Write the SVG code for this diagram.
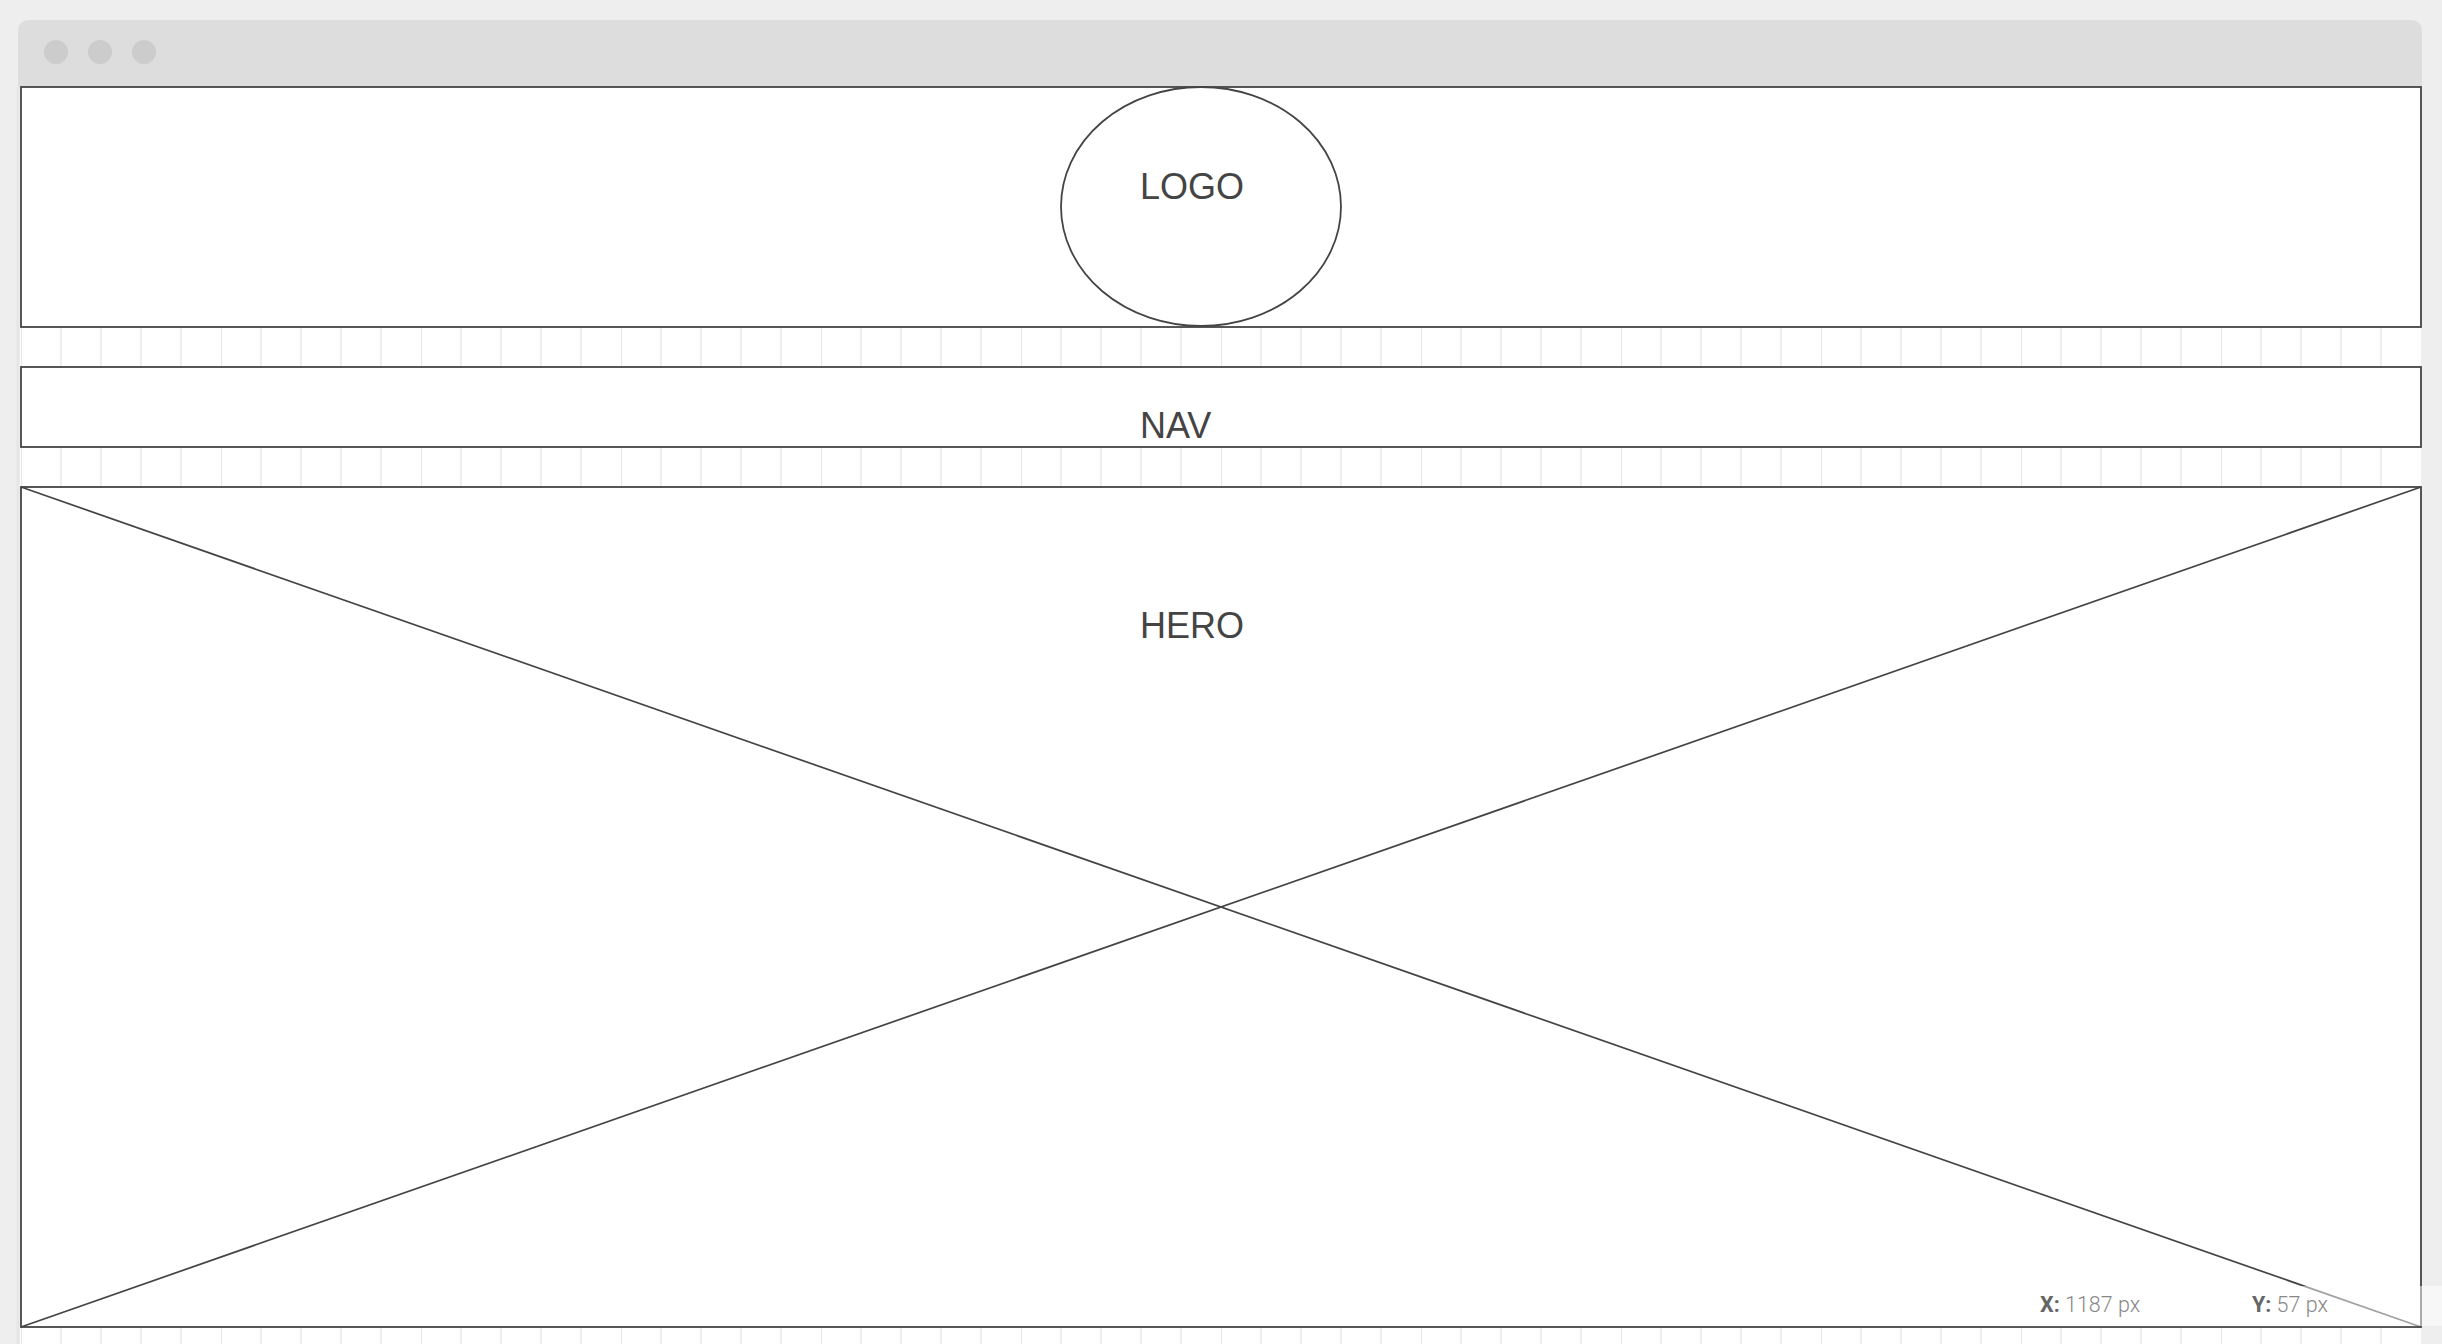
<svg xmlns="http://www.w3.org/2000/svg" width="2442" height="1344" viewBox="0 0 2442 1344">
  <style>
    .box { fill: #ffffff; stroke: #444444; stroke-width: 1.8; }
    .line { fill: none; stroke: #444444; stroke-width: 1.7; }
    .label { font-family: "Liberation Sans", Arial, sans-serif; font-size: 36px; fill: #444444; }
    .minor { stroke: #e9e9e9; stroke-width: 1.5; }
    .major { stroke: #dedede; stroke-width: 1.5; }
    .dot { fill: #cccccc; }
    .coord { font-family: Roboto, "Liberation Sans", sans-serif; font-size: 21.5px; }
    .ck { font-weight: 700; fill: #666666; }
    .cv { font-weight: 300; fill: #888888; }
  </style>
  <defs>
    <pattern id="grid" x="21" y="0" width="200" height="1344" patternUnits="userSpaceOnUse">
      <line class="major" x1="0" y1="0" x2="0" y2="1344"/>
      <line class="minor" x1="40" y1="0" x2="40" y2="1344"/>
      <line class="minor" x1="80" y1="0" x2="80" y2="1344"/>
      <line class="minor" x1="120" y1="0" x2="120" y2="1344"/>
      <line class="minor" x1="160" y1="0" x2="160" y2="1344"/>
    </pattern>
  </defs>

  <!-- page background -->
  <rect x="0" y="0" width="2442" height="1344" fill="#eeeeee"/>

  <!-- browser window -->
  <g id="window">
    <rect x="16.5" y="87" width="3" height="1257" fill="#e6e6e6"/>
    <path d="M18 87 V32 Q18 20 30 20 H2410 Q2422 20 2422 32 V87 Z" fill="#dddddd"/>
    <circle class="dot" cx="56" cy="52" r="12"/>
    <circle class="dot" cx="100" cy="52" r="12"/>
    <circle class="dot" cx="144" cy="52" r="12"/>
    <rect x="20" y="87" width="2401" height="1257" fill="#ffffff"/>
    <rect x="21" y="87" width="2400" height="1257" fill="url(#grid)"/>
  </g>

  <g id="header">
    <rect class="box" x="21" y="87" width="2400" height="240"/>
  </g>

  <g id="logo">
    <ellipse class="box" cx="1201" cy="206.5" rx="140" ry="119.5"/>
    <text class="label" x="1140" y="198.5">LOGO</text>
  </g>

  <g id="nav">
    <rect class="box" x="21" y="367" width="2400" height="80"/>
    <text class="label" x="1140" y="438">NAV</text>
  </g>

  <g id="hero">
    <rect class="box" x="21" y="487" width="2400" height="840"/>
    <line class="line" x1="21" y1="487" x2="2421" y2="1327"/>
    <line class="line" x1="21" y1="1327" x2="2421" y2="487"/>
    <text class="label" x="1140" y="638">HERO</text>
  </g>

  <g id="connectors"/>

  <g id="coordinates">
    <rect x="2000" y="1286" width="442" height="40.1" fill="#ffffff" fill-opacity="0.5"/>
    <text class="coord" x="2040" y="1312"><tspan class="ck">X:</tspan><tspan class="cv"> 1187 px</tspan></text>
    <text class="coord" x="2252" y="1312"><tspan class="ck">Y:</tspan><tspan class="cv"> 57 px</tspan></text>
  </g>
</svg>
